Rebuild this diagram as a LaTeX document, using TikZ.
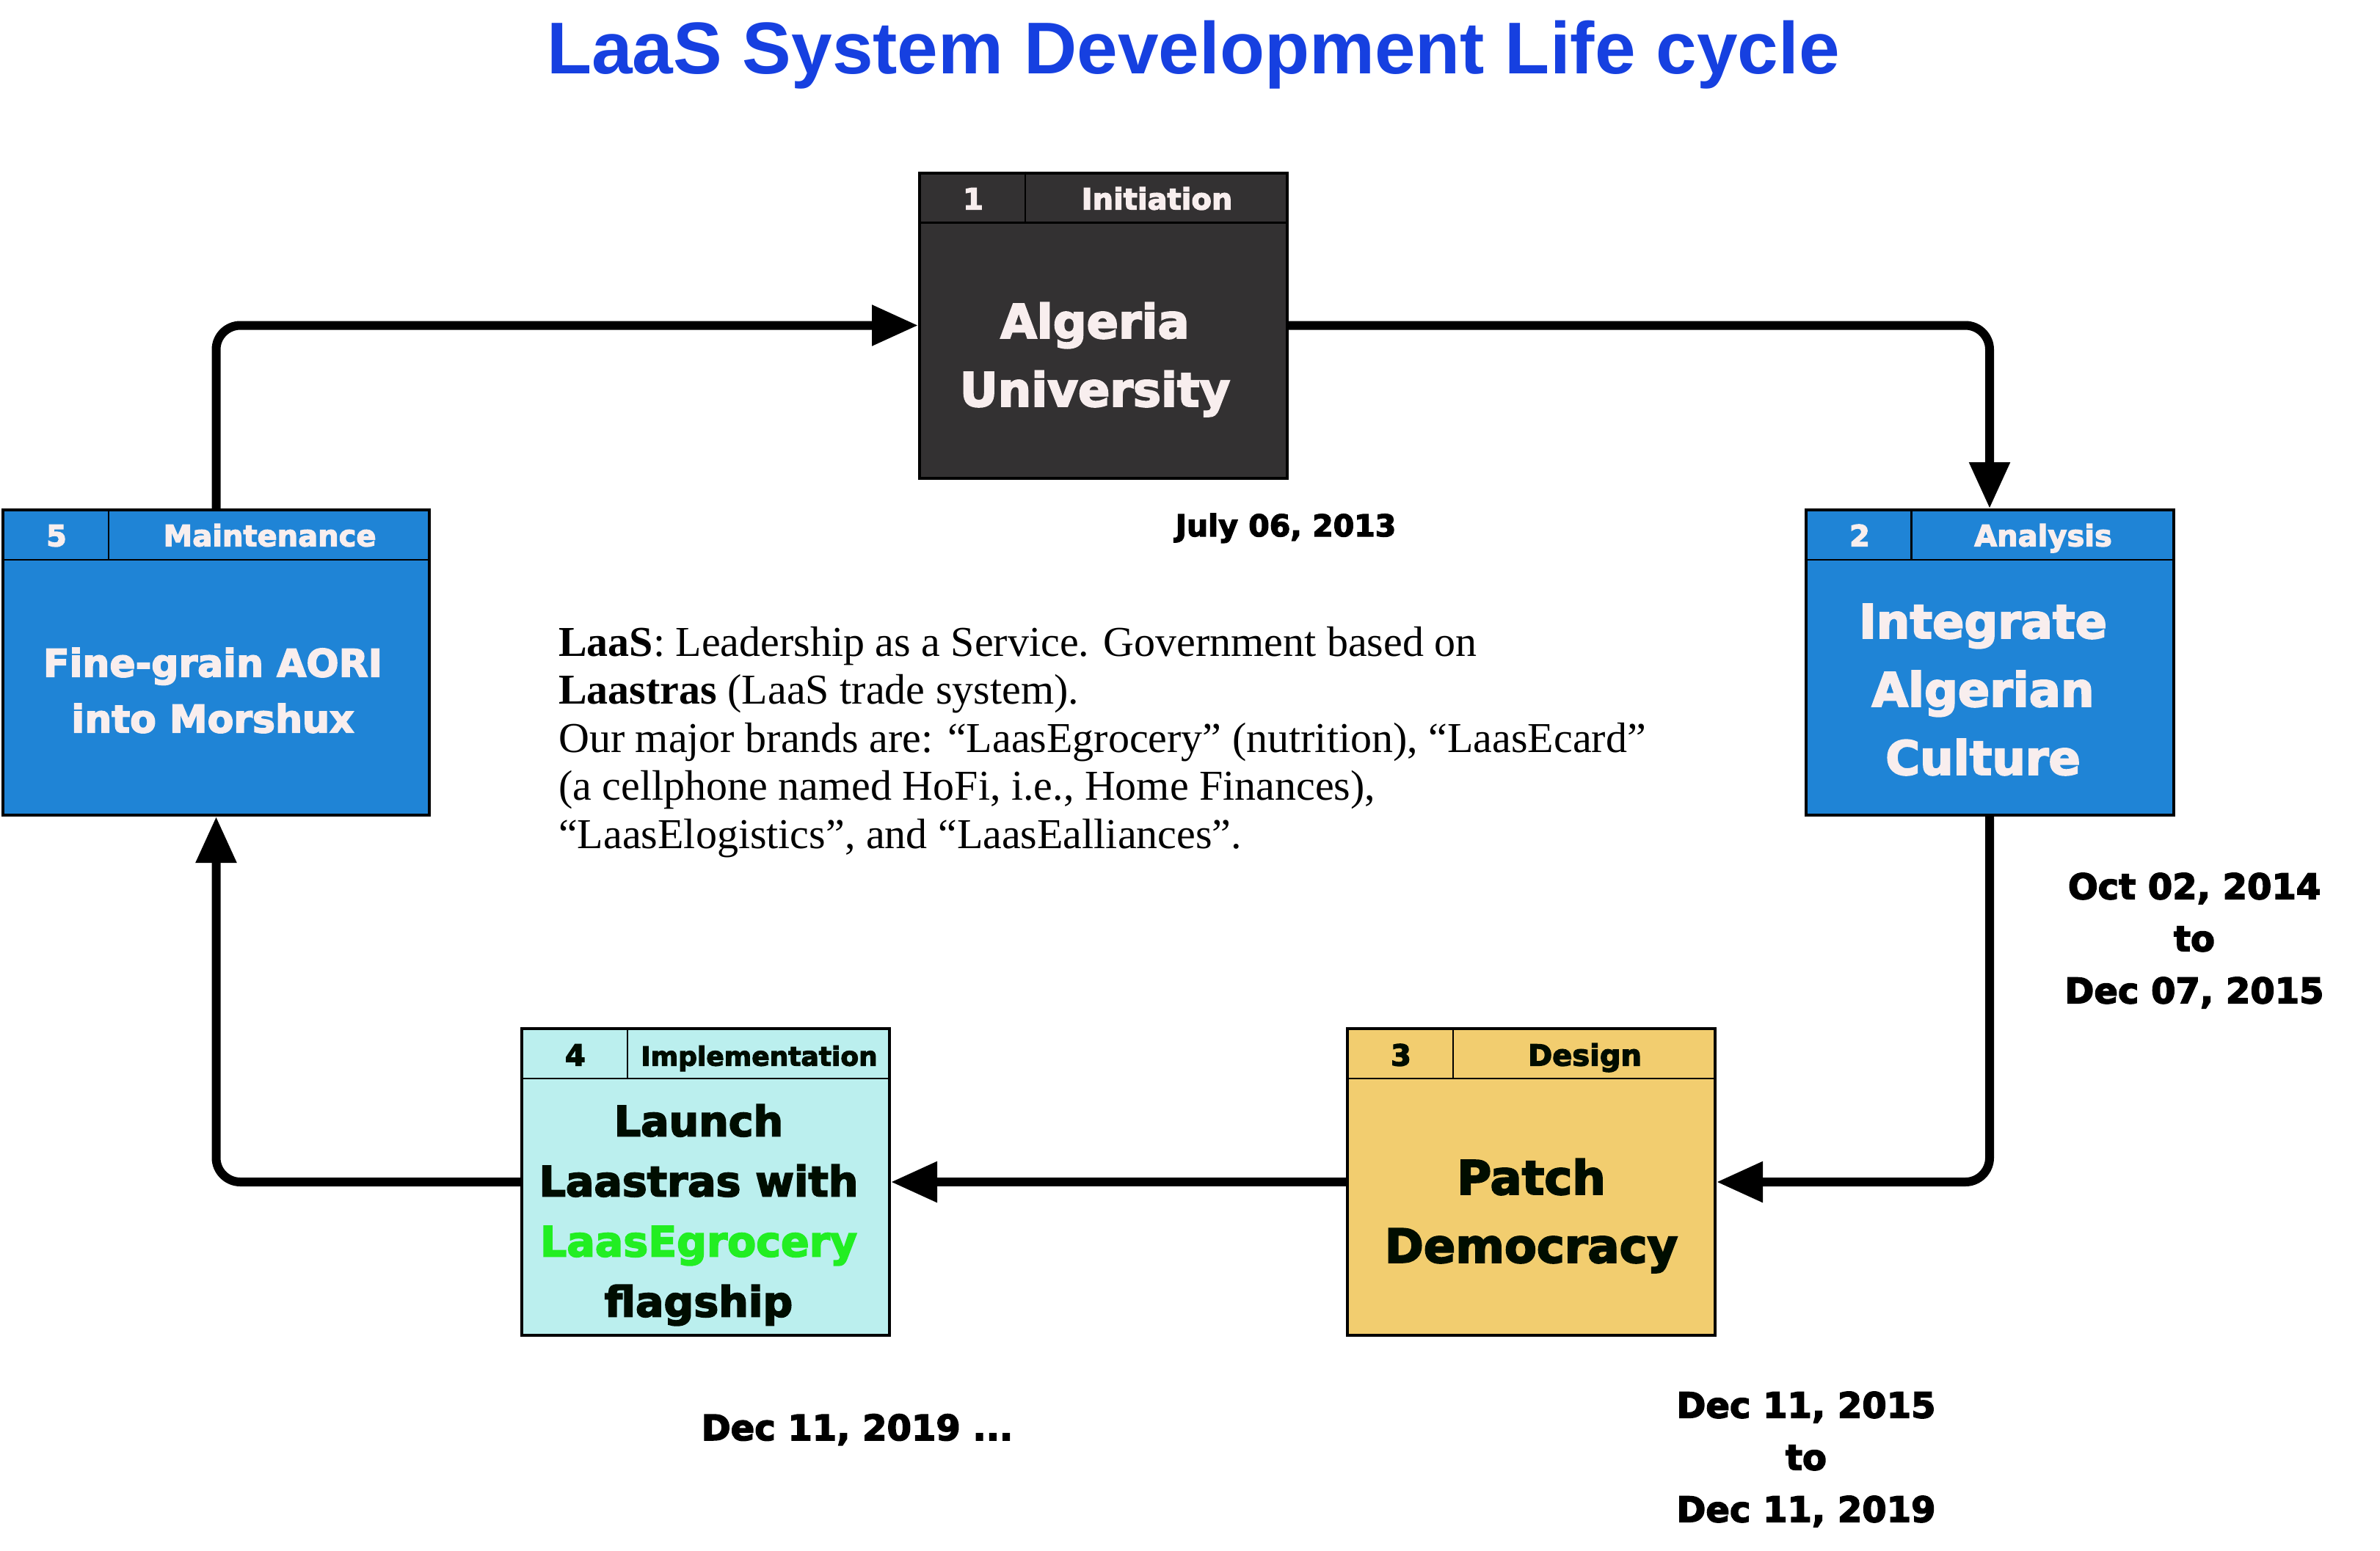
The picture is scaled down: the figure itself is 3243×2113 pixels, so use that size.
\documentclass[tikz,border=0pt]{standalone}
\usepackage{fontspec}
\setmainfont{Liberation Serif}
\newfontfamily\heavyfont{DejaVu Sans}[BoldFeatures={FakeBold=3.2}]
\newfontfamily\titlefont{Liberation Sans}
\usetikzlibrary{arrows.meta}
\definecolor{titleblue}{RGB}{22,64,224}
\definecolor{darkbox}{RGB}{51,49,50}
\definecolor{bluebox}{RGB}{31,132,214}
\definecolor{cyanbox}{RGB}{187,239,238}
\definecolor{yellowbox}{RGB}{242,205,111}
\definecolor{paletext}{RGB}{248,238,238}
\definecolor{lgreen}{RGB}{34,238,34}
\definecolor{inktext}{RGB}{0,13,0}
\begin{document}
\begin{tikzpicture}[x=1pt,y=-1pt,
  box/.style={draw=black, line width=4pt, inner sep=0pt, minimum width=501pt, minimum height=416pt},
  sepline/.style={draw=black, line width=2.5pt},
  hdr/.style={font=\heavyfont\bfseries\fontsize{40}{48}\selectfont, text height=29pt, text depth=0pt, inner sep=0pt},
  body/.style={align=center, inner sep=0pt},
  arr/.style={line width=12pt, rounded corners=33pt, -{Triangle[length=63pt,width=53pt]}},
  datetext/.style={font=\heavyfont\bfseries\fontsize{48}{71}\selectfont, align=center, inner sep=0pt},
  para/.style={font=\fontsize{58}{65}\selectfont, anchor=base west, inner sep=0pt}]
\useasboundingbox (0,0) rectangle (3243,2113);

% title
\node[font=\titlefont\bfseries\fontsize{100}{110}\selectfont, text=titleblue, anchor=base, inner sep=0pt] (title) at (1626,100) {LaaS System Development Life cycle};

% boxes
\node[box, fill=darkbox] (b1) at (1503.5,443.5) {};
\node[box, fill=bluebox] (b2) at (2711,903) {};
\node[box, fill=yellowbox, minimum height=418pt] (b3) at (2086.5,1611) {};
\node[box, fill=cyanbox, minimum height=418pt] (b4) at (961.5,1611) {};
\node[box, fill=bluebox, minimum width=581pt] (b5) at (294.5,903) {};

% header separators
\foreach \b in {b1,b2,b3,b4,b5}{
  \draw[sepline] ([yshift=-70pt]\b.north west) -- ([yshift=-70pt]\b.north east);
  \draw[sepline] ([xshift=146pt]\b.north west) -- ([xshift=146pt,yshift=-70pt]\b.north west);
}

% header labels
\node[hdr, text=paletext] (n1) at (1326,271) {1};
\node[hdr, text=paletext] (h1) at (1576.5,271) {Initiation};
\node[hdr, text=paletext] (n2) at (2534,730) {2};
\node[hdr, text=paletext] (h2) at (2784,730) {Analysis};
\node[hdr, text=inktext] (n3) at (1909,1438) {3};
\node[hdr, text=inktext] (h3) at (2159.5,1438) {Design};
\node[hdr, text=inktext] (n4) at (784,1438) {4};
\node[hdr, text=inktext, font=\heavyfont\bfseries\fontsize{36}{44}\selectfont] (h4) at (1034.5,1438) {Implementation};
\node[hdr, text=paletext] (n5) at (77,730) {5};
\node[hdr, text=paletext] (h5) at (367.5,730) {Maintenance};

% body texts
\node[body, text=paletext, font=\heavyfont\bfseries\fontsize{64}{93}\selectfont] (t1) at (1492,490) {Algeria\\University};
\node[body, text=paletext, font=\heavyfont\bfseries\fontsize{64}{93}\selectfont] (t2) at (2702,940) {Integrate\\Algerian\\Culture};
\node[body, text=inktext, font=\heavyfont\bfseries\fontsize{64}{93}\selectfont] (t3) at (2086.5,1657) {Patch\\Democracy};
\node[body, text=inktext, font=\heavyfont\bfseries\fontsize{57}{82}\selectfont] (t4) at (952,1656) {Launch\\Laastras with\\{\color{lgreen}LaasEgrocery}\\flagship};
\node[body, text=paletext, font=\heavyfont\bfseries\fontsize{52}{76}\selectfont] (t5) at (290,941) {Fine-grain AORI\\into Morshux};

% connectors
\draw[arr] (b5.north) |- (b1.west);
\draw[arr] (b1.east) -| (b2.north);
\draw[arr] (b2.south) |- (b3.east);
\draw[arr] (b3.west) -- (b4.east);
\draw[arr] (b4.west) -| (b5.south);

% dates
\node[datetext, font=\heavyfont\bfseries\fontsize{41}{50}\selectfont, anchor=base] (d1) at (1752,731) {July 06, 2013};
\node[datetext] (d2) at (2990,1282) {Oct 02, 2014\\to\\Dec 07, 2015};
\node[datetext] (d3) at (2461,1989) {Dec 11, 2015\\to\\Dec 11, 2019};
\node[datetext, anchor=base] (d4) at (1168,1963) {Dec 11, 2019 ...};

% paragraph
\node[para] (p1) at (761,894) {\textbf{LaaS}: Leadership as a Service. Government based on};
\node[para] (p2) at (761,959.5) {\textbf{Laastras} (LaaS trade system).};
\node[para] (p3) at (761,1025) {Our major brands are: “LaasEgrocery” (nutrition), “LaasEcard”};
\node[para] (p4) at (761,1090.5) {(a cellphone named HoFi, i.e., Home Finances),};
\node[para] (p5) at (761,1156) {“LaasElogistics”, and “LaasEalliances”.};
\end{tikzpicture}
\end{document}
